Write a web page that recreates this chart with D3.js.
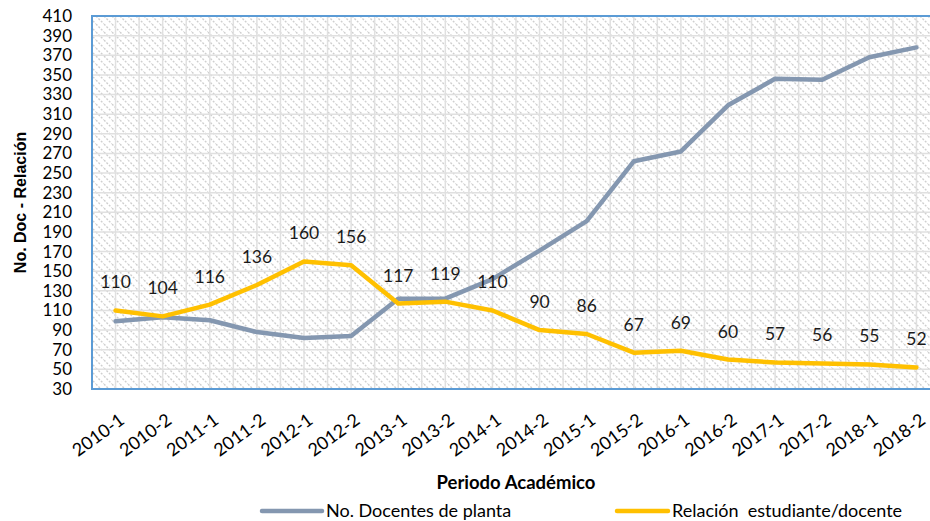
<!DOCTYPE html>
<html>
<head>
<meta charset="utf-8">
<script src="https://cdn.jsdelivr.net/npm/d3@7"></script>
<style>
  html, body { margin: 0; padding: 0; background: #fff; }
  svg { display: block; }
</style>
</head>
<body>
<svg id="chart" width="930" height="521"></svg>
<script>
// Academic periods (x categories)
const periods = ["2010-1","2010-2","2011-1","2011-2","2012-1","2012-2","2013-1","2013-2","2014-1",
                 "2014-2","2015-1","2015-2","2016-1","2016-2","2017-1","2017-2","2018-1","2018-2"];
// Full-time faculty headcount
const docentes = [99,103,100,88,82,84,122,122,142,171,201,262,272,319,346,345,368,378];
// Student / faculty ratio
const relacion = [110,104,116,136,160,156,117,119,110,90,86,67,69,60,57,56,55,52];
// Y axis ticks
const yTicks = d3.range(30, 411, 20);

const seriesNames = ["No. Docentes de planta", "Relación  estudiante/docente"];
const seriesColors = ["#8497b0", "#ffc000"];

const svg = d3.select("#chart");
const plot = { left: 92, top: 16, right: 940, bottom: 389 };

const x = d3.scalePoint().domain(periods).range([plot.left, plot.right]).padding(0.5);
const y = d3.scaleLinear().domain([30, 410]).range([plot.bottom, plot.top]);

// Diagonal hatch fill for plot background
const defs = svg.append("defs");
const pat = defs.append("pattern")
  .attr("id", "hatch").attr("patternUnits", "userSpaceOnUse")
  .attr("width", 8).attr("height", 8);
pat.append("rect").attr("width", 8).attr("height", 8).attr("fill", "#ffffff");
pat.append("path").attr("d", "M0,0 L8,8 M-4,4 L4,12 M4,-4 L12,4")
  .attr("stroke", "#cfcfcf").attr("stroke-width", 1.4).attr("stroke-dasharray", "2,1.5");

svg.append("rect")
  .attr("x", plot.left).attr("y", plot.top)
  .attr("width", plot.right - plot.left).attr("height", plot.bottom - plot.top)
  .attr("fill", "url(#hatch)");

// Grid: horizontal at ticks, vertical at category centres and boundaries
const grid = svg.append("g").attr("stroke", "#e0e0e0").attr("stroke-width", 1.5);
grid.selectAll("line.h").data(yTicks).join("line").attr("class", "h")
  .attr("x1", plot.left).attr("x2", plot.right)
  .attr("y1", d => y(d)).attr("y2", d => y(d));
const half = x.step() / 2;
const vLines = [];
periods.forEach(p => { vLines.push(x(p) - half); vLines.push(x(p)); });
grid.selectAll("line.v").data(vLines).join("line").attr("class", "v")
  .attr("x1", d => d).attr("x2", d => d)
  .attr("y1", plot.top).attr("y2", plot.bottom);

// Plot border
svg.append("rect")
  .attr("x", plot.left).attr("y", plot.top)
  .attr("width", plot.right - plot.left).attr("height", plot.bottom - plot.top)
  .attr("fill", "none").attr("stroke", "#5b9bd5").attr("stroke-width", 2);

// Y axis labels
const yAxis = d3.axisLeft(y).tickValues(yTicks).tickSize(0).tickPadding(20);
const gy = svg.append("g").attr("transform", `translate(${plot.left},0)`).call(yAxis);
gy.select(".domain").remove();
gy.selectAll("text")
  .attr("font-family", "Lato, 'Open Sans', sans-serif")
  .attr("font-size", 17).attr("fill", "#000");

// X axis labels (rotated)
const xAxis = d3.axisBottom(x).tickSize(0).tickPadding(0);
const gx = svg.append("g").attr("transform", `translate(0,${plot.bottom})`).call(xAxis);
gx.select(".domain").remove();
gx.selectAll("text")
  .attr("font-family", "Lato, 'Open Sans', sans-serif")
  .attr("font-size", 18).attr("fill", "#000")
  .attr("text-anchor", "end")
  .attr("dy", null)
  .attr("transform", "translate(7,30) rotate(-36)")
  .attr("dominant-baseline", "middle")
  .attr("y", 0).attr("x", 0);

// Axis titles
svg.append("text")
  .attr("transform", `translate(26,${(plot.top + plot.bottom) / 2}) rotate(-90)`)
  .attr("text-anchor", "middle")
  .attr("font-family", "'Liberation Sans', Arial, sans-serif")
  .attr("font-weight", "bold").attr("font-size", 16).attr("fill", "#000")
  .text("No. Doc - Relación");

svg.append("text")
  .attr("x", 516).attr("y", 489)
  .attr("text-anchor", "middle")
  .attr("font-family", "Lato, 'Open Sans', sans-serif")
  .attr("font-weight", "bold").attr("font-size", 18.5).attr("fill", "#000")
  .text("Periodo Académico");

// Lines
const line = d3.line().x((d, i) => x(periods[i])).y(d => y(d));
[docentes, relacion].forEach((vals, k) => {
  svg.append("path").datum(vals)
    .attr("d", line)
    .attr("fill", "none")
    .attr("stroke", seriesColors[k])
    .attr("stroke-width", 4.5)
    .attr("stroke-linejoin", "round")
    .attr("stroke-linecap", "round");
});

// Value labels for the ratio series
svg.append("g").selectAll("text").data(relacion).join("text")
  .attr("x", (d, i) => x(periods[i]))
  .attr("y", d => y(d) - 22)
  .attr("text-anchor", "middle")
  .attr("font-family", "Lato, 'Open Sans', sans-serif")
  .attr("font-size", 17.5).attr("fill", "#1a1a1a")
  .text(d => d);

// Legend
const legendItems = [
  { x1: 262, x2: 322, tx: 326 },
  { x1: 617, x2: 668, tx: 672 }
];
const lg = svg.append("g");
legendItems.forEach((it, k) => {
  lg.append("line")
    .attr("x1", it.x1).attr("x2", it.x2).attr("y1", 511).attr("y2", 511)
    .attr("stroke", seriesColors[k]).attr("stroke-width", 4.5).attr("stroke-linecap", "round");
  lg.append("text")
    .attr("x", it.tx).attr("y", 511).attr("dy", "0.35em")
    .attr("font-family", "Lato, 'Open Sans', sans-serif")
    .attr("font-size", 18).attr("fill", "#000")
    .attr("xml:space", "preserve").style("white-space", "pre")
    .text(seriesNames[k]);
});
</script>
</body>
</html>
